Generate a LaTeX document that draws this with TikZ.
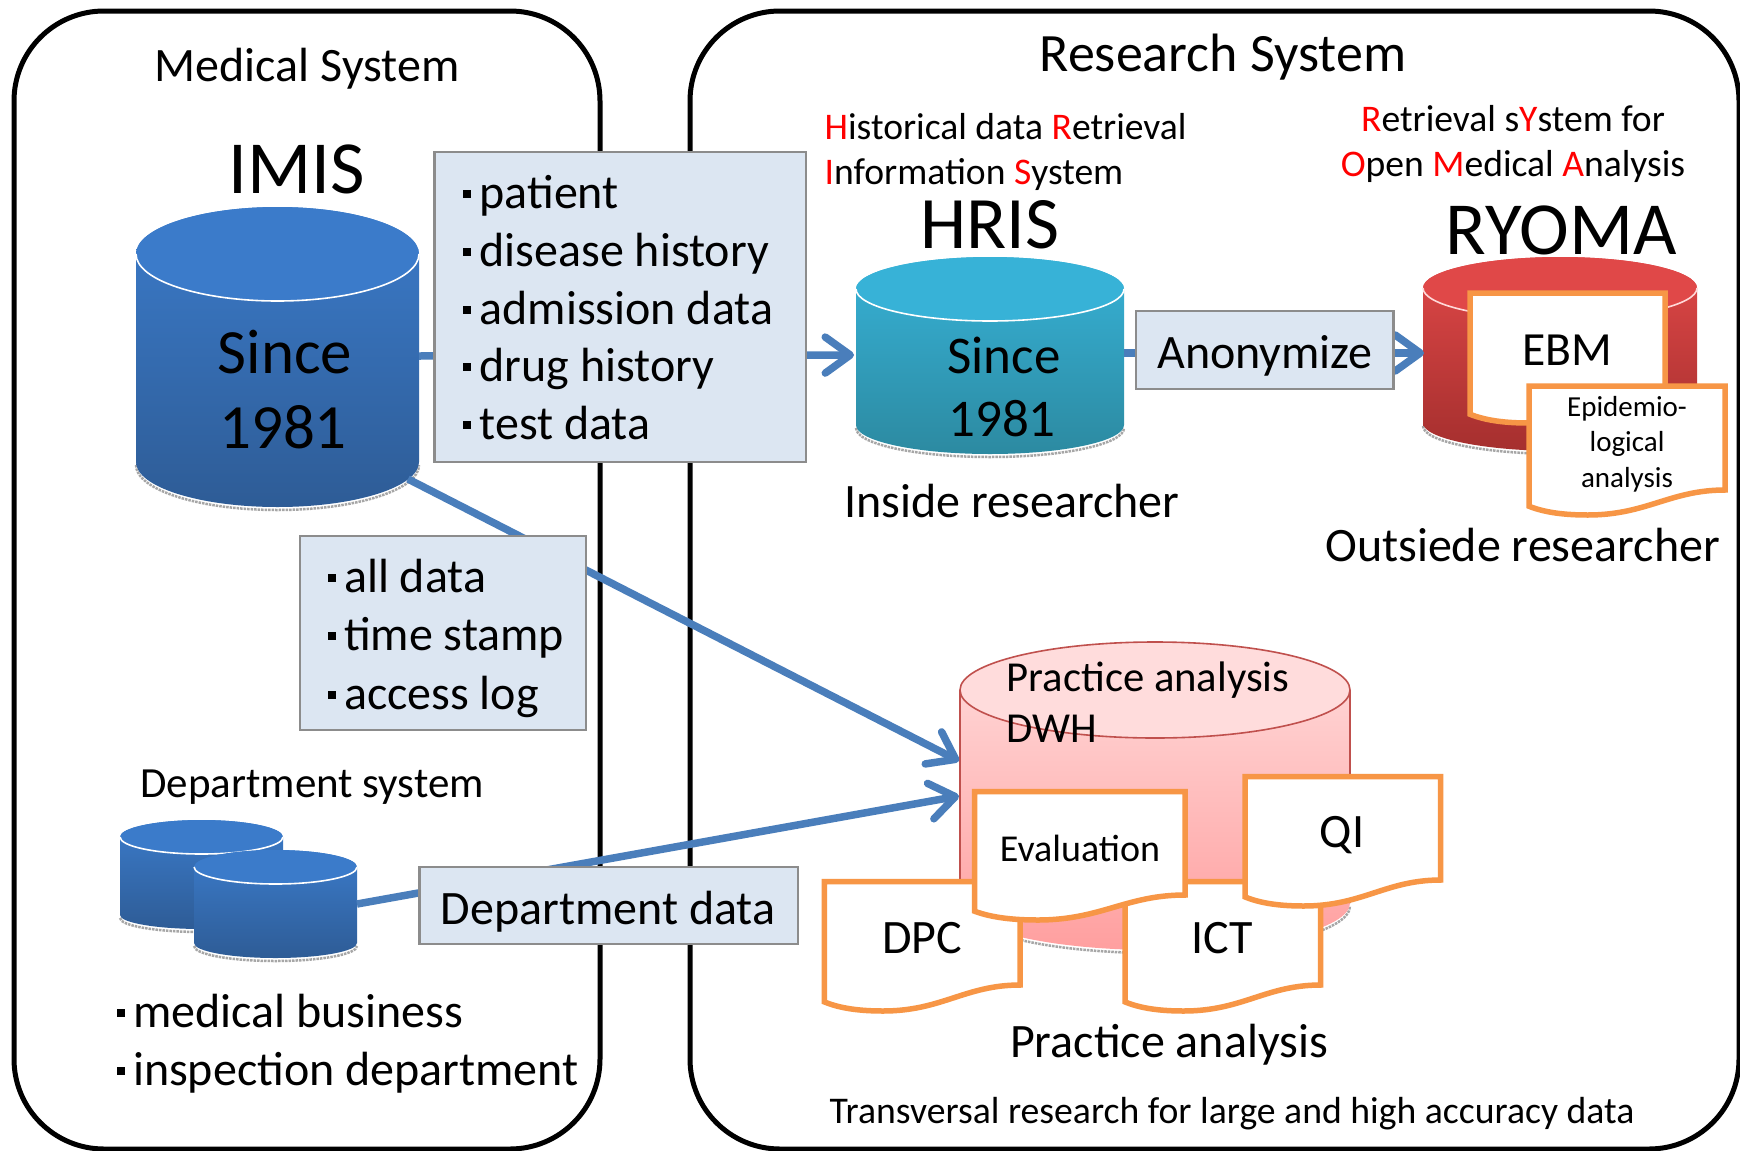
\documentclass[tikz,border=0pt]{standalone}
\usepackage{fontspec}
\setmainfont{Carlito}
\usetikzlibrary{arrows.meta}
\definecolor{boxfill}{HTML}{DCE6F2}
\definecolor{boxline}{HTML}{8C8C8C}
\definecolor{connblue}{HTML}{4A7EBB}
\definecolor{docline}{HTML}{F79646}
\definecolor{blueA}{HTML}{3B7BCA}
\definecolor{blueB}{HTML}{2E5C96}
\definecolor{cyanA}{HTML}{37B2D7}
\definecolor{cyanB}{HTML}{2C8AA1}
\definecolor{redA}{HTML}{E04848}
\definecolor{redB}{HTML}{A52F2E}
\definecolor{pinkA}{HTML}{FFDCDC}
\definecolor{pinkB}{HTML}{FF9F9F}
\definecolor{pinkL}{HTML}{C0504D}
\newcommand{\fs}[1]{\fontsize{#1pt}{#1pt}\selectfont}
\newcommand{\bul}{\rule[0.22em]{0.17em}{0.17em}\hspace{0.17em}}
\newcommand{\rd}[1]{\textcolor{red}{#1}}
% x1, x2, centre y of top ellipse, ry, side-bottom y, ry bottom, top colour, bottom colour, rim colour
\newcommand{\cylshape}[9]{%
  \pgfmathsetmacro\crx{(#2-#1)/2}%
  \draw[gray!70,line width=2.5pt,densely dotted] (#1,#5+3) arc[start angle=180,end angle=360,x radius=\crx pt,y radius=#6 pt];
  \path[top color=#7,bottom color=#8] (#1,#3) arc[start angle=180,end angle=0,x radius=\crx pt,y radius=#4 pt] -- (#2,#5) arc[start angle=0,end angle=-180,x radius=\crx pt,y radius=#6 pt] -- cycle;
  \fill[#7] (#1,#3) arc[start angle=180,end angle=-180,x radius=\crx pt,y radius=#4 pt] -- cycle;
  \draw[#9,line width=1.6pt] (#1,#3) arc[start angle=180,end angle=360,x radius=\crx pt,y radius=#4 pt];
}
% x1, y top, x2, y right bottom, wave depth
\newcommand{\docshape}[5]{%
  \pgfmathsetmacro\dw{#3-#1}\pgfmathsetmacro\dtop{(#2-#4)/(#5)}%
  \begin{scope}[shift={(#1,#4)},x=\dw pt,y=-#5 pt]
    \filldraw[fill=white,draw=docline,line width=5.5pt,miter limit=4] (0,\dtop) -- (1,\dtop) -- (1,0) .. controls (.72,0) and (.6,1) .. (.3,1) .. controls (.18,1) and (.08,.9) .. (0,.65) -- cycle;
  \end{scope}
}
\tikzset{
  panel/.style={draw=black,line width=5pt,rounded corners=90pt,fill=none},
  databox/.style={draw=boxline,fill=boxfill,line width=2.2pt,inner sep=0pt},
  conn/.style={draw=connblue,line width=7.5pt},
  connarrow/.style={conn,-{Straight Barb[length=25pt,width=36pt,round]}},
  sz/.style={font=\fs{#1},yshift={-0.28*#1*1pt}},
  mytext/.style={inner sep=0pt,anchor=mid},
  lefttext/.style={inner sep=0pt,anchor=mid west}
}
\begin{document}
\begin{tikzpicture}[x=1pt,y=-1pt]
\useasboundingbox (0,0) rectangle (1740,1151);
\fill[white] (0,0) rectangle (1740,1151);
% panels
\draw[panel] (14,11) rectangle (600,1149);
\draw[panel] (690,11) rectangle (1739,1149);
% cylinders
\cylshape{136}{419}{254}{47}{462}{45}{blueA}{blueB}{white}
\cylshape{856}{1124}{289}{32}{425}{29}{cyanA}{cyanB}{white}
\cylshape{1423}{1697}{288}{31}{423}{28}{redA}{redB}{white!85!red}
\cylshape{960}{1350}{690}{48}{903}{47}{pinkA}{pinkB}{pinkL}
\draw[pinkL,line width=1.6pt] (960,903) -- (960,690) arc[start angle=180,end angle=0,x radius=195pt,y radius=48pt] -- (1350,903);
\cylshape{120}{283}{837}{17}{915}{14}{blueA}{blueB}{white}
\cylshape{194}{357}{867}{17}{943}{15}{blueA}{blueB}{white}
% connector end points
\coordinate (imisE) at (419,356);
\coordinate (imisS) at (408,479);
\coordinate (hrisW) at (854,355);
\coordinate (hrisE) at (1124,353);
\coordinate (ryomaW) at (1424,353);
\coordinate (dwhA) at (959,761);
\coordinate (dwhB) at (959,796);
\coordinate (deptE) at (357,904);
% connectors
\draw[connarrow] (imisE) -- (hrisW);
\draw[connarrow] (hrisE) -- (ryomaW);
\draw[connarrow] (imisS) -- (dwhA);
\draw[connarrow] (deptE) -- (dwhB);
% boxes
\node[databox,minimum width=371.5pt,minimum height=310pt] (fields) at (620.2,306.7) {};
\node[databox,minimum width=286.4pt,minimum height=194pt] (logs) at (442.8,633) {};
\node[databox,minimum width=378.5pt,minimum height=77.3pt] (deptdata) at (608.7,905.3) {};
\node[databox,minimum width=257.5pt,minimum height=78pt] (anon) at (1264.7,350) {};
% documents
\docshape{1470}{293}{1665}{398}{25}
\docshape{1529}{386}{1725}{490}{25}
\docshape{824.4}{881.7}{1020}{985}{26}
\docshape{1125}{881.7}{1320.6}{985}{26}
\docshape{974.7}{791.7}{1185}{895}{25}
\docshape{1245}{776.7}{1440.6}{880}{26}
% text
\node[mytext,sz=48] (t1) at (307,66) {Medical System};
\node[mytext,sz=75] (t2) at (297,170) {IMIS};
\node[mytext,sz=54] (t3) at (1223,54) {Research System};
\node[lefttext,sz=37.6] (t4) at (824.5,126.5) {\rd{H}istorical data \rd{R}etrieval};
\node[lefttext,sz=37.6] (t5) at (824.5,172) {\rd{I}nformation \rd{S}ystem};
\node[mytext,sz=37.6] (t6) at (1513,119) {\rd{R}etrieval s\rd{Y}stem for};
\node[mytext,sz=37.6] (t7) at (1513,164) {\rd{O}pen \rd{M}edical \rd{A}nalysis};
\node[mytext,sz=74] (t8) at (990,225) {HRIS};
\node[mytext,sz=75] (t9) at (1561,231) {RYOMA};
\node[mytext,sz=63] (t10) at (285,353) {Since};
\node[mytext,sz=63] (t11) at (283,428) {1981};
\node[mytext,sz=53] (t12) at (1004,356) {Since};
\node[mytext,sz=53] (t13) at (1002,419) {1981};
\node[mytext,sz=48] (t14) at (1012,501.6) {Inside researcher};
\node[mytext,sz=48] (t15) at (1522.5,546) {Outsiede researcher};
\node[mytext,sz=47.6] (t16) at (1567,349.5) {EBM};
\node[mytext,sz=29] (t17) at (1627,406) {Epidemio-};
\node[mytext,sz=29] (t18) at (1627,440.5) {logical};
\node[mytext,sz=29] (t19) at (1627,477) {analysis};
\node[mytext,sz=48] (t20) at (1265,353) {Anonymize};
\node[lefttext,sz=48] (b1) at (463,193) {\bul patient};
\node[lefttext,sz=48] (b2) at (463,251) {\bul disease history};
\node[lefttext,sz=48] (b3) at (463,308.5) {\bul admission data};
\node[lefttext,sz=48] (b4) at (463,366) {\bul drug history};
\node[lefttext,sz=48] (b5) at (463,424) {\bul test data};
\node[lefttext,sz=48] (c1) at (327.5,577) {\bul all data};
\node[lefttext,sz=48] (c2) at (327.5,635) {\bul time stamp};
\node[lefttext,sz=48] (c3) at (327.5,693.5) {\bul access log};
\node[lefttext,sz=43] (t21) at (140,783.5) {Department system};
\node[mytext,sz=48] (t22) at (608,909) {Department data};
\node[lefttext,sz=48] (d1) at (116.5,1012) {\bul medical business};
\node[lefttext,sz=48] (d2) at (116.5,1070) {\bul inspection department};
\node[lefttext,sz=42.7] (t23) at (1006.5,677) {Practice analysis};
\node[lefttext,sz=42.7] (t24) at (1006.5,728) {DWH};
\node[mytext,sz=38] (t25) at (1080,848) {Evaluation};
\node[mytext,sz=48] (t26) at (1342,832) {QI};
\node[mytext,sz=48] (t27) at (922,938) {DPC};
\node[mytext,sz=48] (t28) at (1222,938) {ICT};
\node[mytext,sz=48] (t29) at (1169,1042) {Practice analysis};
\node[mytext,sz=37.7] (t30) at (1232,1111) {Transversal research for large and high accuracy data};
\end{tikzpicture}
\end{document}
